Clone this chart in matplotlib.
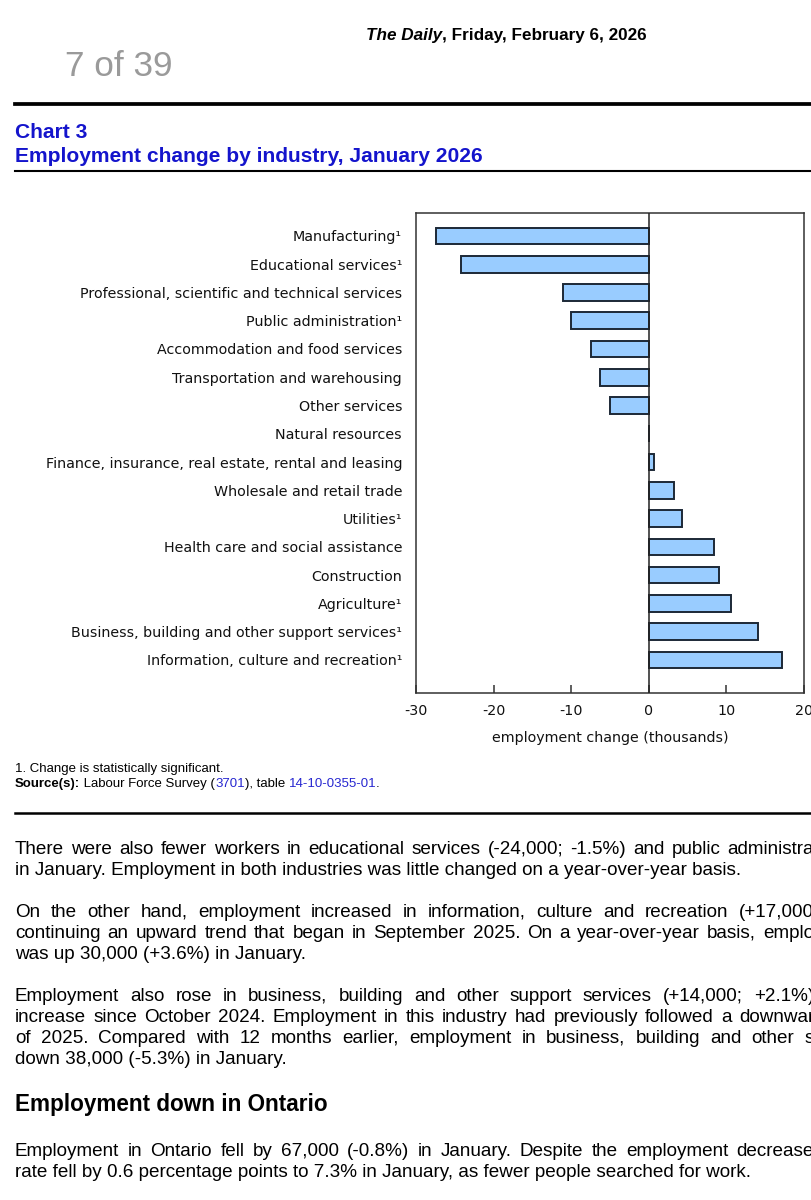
import numpy as np
import matplotlib
matplotlib.use("Agg")
import matplotlib.pyplot as plt

# chart data (thousands)
industries = [
    "Manufacturing¹",
    "Educational services¹",
    "Professional, scientific and technical services",
    "Public administration¹",
    "Accommodation and food services",
    "Transportation and warehousing",
    "Other services",
    "Natural resources",
    "Finance, insurance, real estate, rental and leasing",
    "Wholesale and retail trade",
    "Utilities¹",
    "Health care and social assistance",
    "Construction",
    "Agriculture¹",
    "Business, building and other support services¹",
    "Information, culture and recreation¹",
]
change = [-27.4, -24.2, -11.1, -10.0, -7.4, -6.3, -5.0, 0.0,
          0.7, 3.3, 4.3, 8.4, 9.0, 10.6, 14.1, 17.2]
x_ticks = [-30, -20, -10, 0, 10, 20]

# page text
paragraphs = [
    ["There were also fewer workers in educational services (-24,000; -1.5%) and public administra",
     "in January. Employment in both industries was little changed on a year-over-year basis."],
    ["On the other hand, employment increased in information, culture and recreation (+17,000",
     "continuing an upward trend that began in September 2025. On a year-over-year basis, emplo",
     "was up 30,000 (+3.6%) in January."],
    ["Employment also rose in business, building and other support services (+14,000; +2.1%)",
     "increase since October 2024. Employment in this industry had previously followed a downwar",
     "of 2025. Compared with 12 months earlier, employment in business, building and other s",
     "down 38,000 (-5.3%) in January."],
]
ontario_par = [
    "Employment in Ontario fell by 67,000 (-0.8%) in January. Despite the employment decrease",
    "rate fell by 0.6 percentage points to 7.3% in January, as fewer people searched for work.",
]

W, H = 812, 1200
BLUE = "#1414cc"
LINK = "#2626d0"
ARIAL = "Liberation Sans"
VERD = "DejaVu Sans"

fig = plt.figure(figsize=(W / 100, H / 100), dpi=100)
renderer = fig.canvas.get_renderer()


def fx(x):
    return x / W


def fy(y):
    return 1 - y / H


def width(s, **kw):
    t = fig.text(0, 0, s, **kw)
    w = t.get_window_extent(renderer).width
    t.remove()
    return w


def fit(s, target, **kw):
    return 10 * target / width(s, fontsize=10, **kw)


def base(yc, size):
    # baseline (px from top) for a line whose visual centre is yc
    return yc + 0.36 * size * 100 / 72


def run(x, yc, parts, size, family=ARIAL):
    # parts: (text, color, weight, style)
    for text, color, weight, style in parts:
        kw = dict(fontsize=size, family=family, weight=weight, style=style)
        fig.text(fx(x), fy(base(yc, size)), text, color=color, va="baseline", ha="left", **kw)
        x += width(text.replace(" ", "\u00a0"), **kw)


def justify(yc, line, size, x0=15, x1=814):
    words = line.split(" ")
    ws = [width(w, fontsize=size, family=ARIAL) for w in words]
    gap = (x1 - x0 - sum(ws)) / (len(words) - 1)
    x = x0
    for w, wd in zip(words, ws):
        fig.text(fx(x), fy(base(yc, size)), w, fontsize=size, family=ARIAL, va="baseline")
        x += wd + gap


def plain(yc, line, size, **kw):
    fig.text(fx(15), fy(base(yc, size)), line, fontsize=size, family=ARIAL, va="baseline", **kw)


# header
hsize = fit("The Daily, Friday, February 6, 2026", 279, family=ARIAL, weight="bold")
run(366, 34, [("The Daily", "black", "bold", "italic"),
              (", Friday, February 6, 2026", "black", "bold", "normal")], hsize)
psize = fit("7 of 39", 108, family=ARIAL)
fig.text(fx(65), fy(67), "7 of 39", fontsize=psize, family=ARIAL, color="#9a9a9a", va="center")
fig.add_artist(plt.Line2D([fx(15), 1], [fy(104), fy(104)], color="black", lw=2.7))

tsize = fit("Employment change by industry, January 2026", 467, family=ARIAL, weight="bold")
fig.text(fx(15), fy(133), "Chart 3", fontsize=tsize, family=ARIAL, weight="bold", color=BLUE, va="center")
fig.text(fx(15), fy(156), "Employment change by industry, January 2026", fontsize=tsize,
         family=ARIAL, weight="bold", color=BLUE, va="center")
fig.add_artist(plt.Line2D([fx(15), 1], [fy(171), fy(171)], color="black", lw=1.5))

# chart
lsize = fit("Professional, scientific and technical services", 322, family=VERD)
ax = fig.add_axes([fx(416), fy(693), (804 - 416) / W, (693 - 213) / H])
pos = np.arange(len(industries))
ax.barh(pos, change, height=0.59, color="#99ccff", edgecolor="#1c2836", linewidth=1.4, zorder=2)
ax.axvline(0, color="#222222", lw=1.1, zorder=3)
ax.set_xlim(-30, 20)
ax.set_ylim(len(industries) - 1 + 1.17, -0.81)
ax.set_yticks(pos)
ax.set_yticklabels(industries, fontsize=lsize, family=VERD, color="#111111")
ax.set_xticks(x_ticks)
ax.set_xticklabels([str(t) for t in x_ticks], fontsize=lsize, family=VERD, color="#111111")
ax.tick_params(axis="y", length=0, pad=10)
ax.tick_params(axis="x", direction="in", length=5.5, width=1.1, color="#333333", pad=8)
for sp in ax.spines.values():
    sp.set_color("#333333")
    sp.set_linewidth(1.1)
ax.set_xlabel("employment change (thousands)", fontsize=lsize, family=VERD, color="#111111", labelpad=9)

# notes
nsize = fit("1. Change is statistically significant.", 208, family=ARIAL)
plain(767, "1. Change is statistically significant.", nsize)
run(15, 782, [("Source(s):", "black", "bold", "normal"),
              (" Labour Force Survey (", "black", "normal", "normal"),
              ("3701", LINK, "normal", "normal"),
              ("), table ", "black", "normal", "normal"),
              ("14-10-0355-01", LINK, "normal", "normal"),
              (".", "black", "normal", "normal")], nsize)
fig.add_artist(plt.Line2D([fx(15), 1], [fy(813), fy(813)], color="black", lw=1.8))

# body text
bsize = fit("rate fell by 0.6 percentage points", 275, family=ARIAL)
y = 847
for par in paragraphs:
    for i, line in enumerate(par):
        if i < len(par) - 1:
            justify(y, line, bsize)
        else:
            plain(y, line, bsize)
        y += 21
    y += 21

gsize = fit("Employment down in Onta", 284, family=ARIAL, weight="bold")
plain(1103, "Employment down in Ontario", gsize, weight="bold")
justify(1149, ontario_par[0], bsize)
plain(1170, ontario_par[1], bsize)

fig.savefig("out.png", dpi=100)
